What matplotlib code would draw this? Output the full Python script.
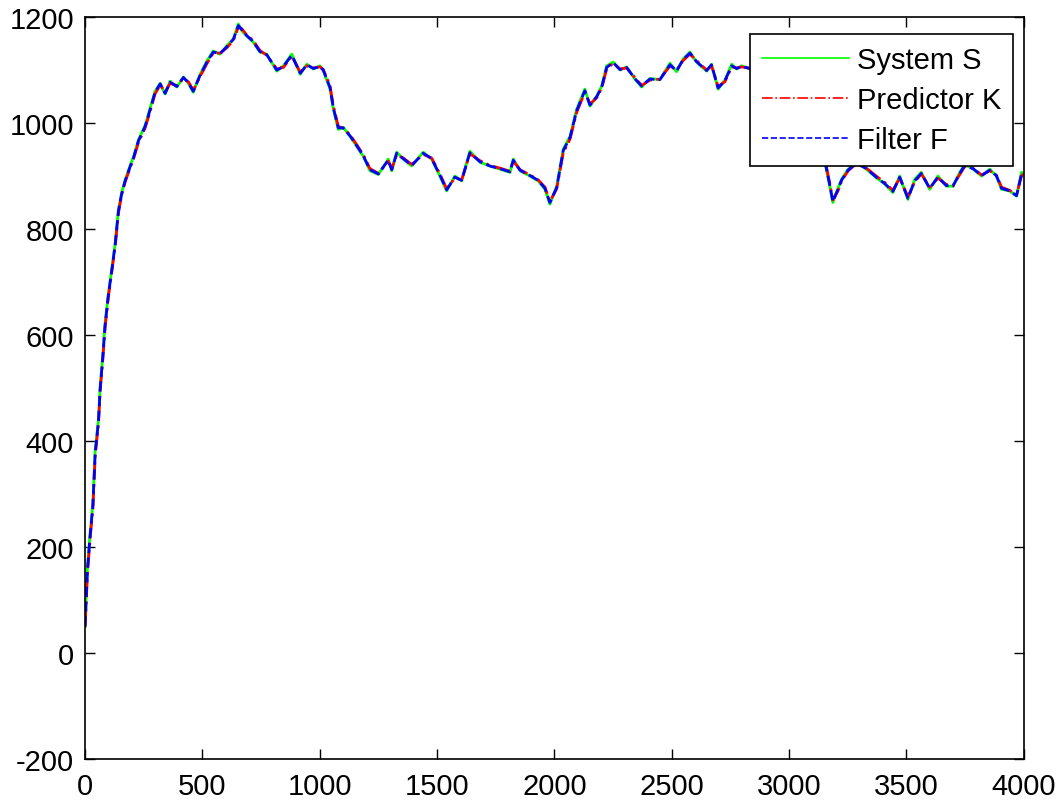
import matplotlib.pyplot as plt

plt.rcParams['font.family'] = ['Liberation Sans', 'DejaVu Sans']
plt.rcParams['axes.unicode_minus'] = False

# sample index
steps = [0, 5, 10, 21, 33, 43, 57, 64, 75, 85,
         99, 114, 128, 142, 156, 170, 192, 206, 227, 256,
         277, 298, 320, 341, 362, 391, 419, 440, 461, 490,
         519, 546, 575, 604, 632, 653, 668, 689, 716, 745,
         774, 817, 845, 881, 917, 945, 973, 1001, 1015, 1044,
         1058, 1079, 1100, 1129, 1158, 1186, 1214, 1250, 1292, 1307,
         1328, 1356, 1392, 1441, 1477, 1512, 1541, 1576, 1605, 1640,
         1683, 1725, 1768, 1811, 1825, 1854, 1896, 1931, 1960, 1981,
         2010, 2038, 2067, 2095, 2130, 2152, 2181, 2202, 2223, 2251,
         2280, 2308, 2343, 2372, 2407, 2450, 2493, 2521, 2549, 2578,
         2606, 2649, 2670, 2698, 2727, 2756, 2777, 2798, 2850, 2900,
         2950, 3000, 3050, 3100, 3130, 3153, 3174, 3187, 3209, 3224,
         3252, 3287, 3330, 3372, 3408, 3443, 3472, 3507, 3536, 3564,
         3600, 3635, 3671, 3699, 3728, 3749, 3785, 3821, 3856, 3884,
         3906, 3941, 3970, 3991, 4000]

system_s = [50, 110, 162, 225, 281, 384, 440, 503, 559, 622,
            678, 726, 773, 837, 869, 892, 920, 936, 968, 996,
            1028, 1060, 1075, 1055, 1079, 1068, 1087, 1075, 1058, 1092,
            1117, 1136, 1130, 1146, 1159, 1187, 1174, 1164, 1153, 1134,
            1130, 1098, 1108, 1130, 1092, 1111, 1102, 1108, 1099, 1064,
            1026, 988, 992, 975, 956, 937, 910, 903, 932, 910,
            945, 932, 919, 945, 932, 900, 872, 900, 891, 947,
            926, 919, 913, 907, 932, 910, 900, 891, 875, 847,
            881, 951, 975, 1026, 1064, 1032, 1051, 1070, 1108, 1115,
            1100, 1106, 1083, 1068, 1084, 1082, 1113, 1097, 1121, 1134,
            1115, 1098, 1111, 1064, 1081, 1111, 1102, 1108, 1100, 1120,
            1090, 1110, 1080, 1040, 980, 926, 881, 850, 877, 894,
            913, 926, 913, 897, 885, 869, 900, 856, 894, 907,
            875, 900, 881, 881, 907, 922, 913, 900, 913, 900,
            875, 872, 862, 907, 905]

predictor_k = [50, 102, 150, 214, 272, 372, 434, 494, 552, 614,
               671, 720, 767, 830, 865, 888, 916, 932, 963, 991,
               1022, 1055, 1072, 1058, 1075, 1071, 1084, 1078, 1062, 1088,
               1112, 1132, 1132, 1142, 1156, 1181, 1178, 1166, 1156, 1137,
               1128, 1102, 1105, 1126, 1096, 1108, 1104, 1106, 1101, 1070,
               1032, 994, 990, 978, 959, 940, 914, 905, 928, 914,
               940, 934, 922, 941, 934, 904, 876, 896, 893, 942,
               929, 920, 915, 909, 928, 912, 902, 893, 879, 852,
               876, 944, 970, 1020, 1058, 1036, 1048, 1066, 1102, 1113,
               1102, 1104, 1086, 1071, 1081, 1083, 1108, 1100, 1118, 1130,
               1118, 1100, 1108, 1069, 1078, 1106, 1104, 1106, 1102, 1116,
               1093, 1107, 1083, 1045, 986, 932, 886, 855, 872, 890,
               910, 923, 915, 900, 888, 873, 896, 861, 889, 904,
               879, 896, 884, 882, 903, 918, 915, 902, 910, 902,
               879, 873, 865, 900, 904]

filter_f = [50, 106, 156, 220, 278, 378, 437, 498, 556, 618,
            675, 723, 770, 834, 867, 890, 918, 934, 966, 994,
            1025, 1058, 1074, 1056, 1077, 1069, 1086, 1076, 1060, 1090,
            1115, 1134, 1131, 1144, 1158, 1184, 1176, 1165, 1154, 1135,
            1129, 1100, 1107, 1128, 1094, 1110, 1103, 1107, 1100, 1067,
            1029, 991, 991, 976, 957, 938, 912, 904, 930, 912,
            943, 933, 920, 943, 933, 902, 874, 898, 892, 944,
            927, 919, 914, 908, 930, 911, 901, 892, 877, 850,
            878, 948, 973, 1023, 1061, 1034, 1050, 1068, 1105, 1114,
            1101, 1105, 1084, 1070, 1083, 1082, 1110, 1098, 1120, 1132,
            1116, 1099, 1110, 1066, 1080, 1108, 1103, 1107, 1101, 1118,
            1091, 1108, 1081, 1042, 983, 929, 883, 852, 875, 892,
            911, 925, 914, 898, 886, 871, 898, 858, 891, 905,
            877, 898, 882, 881, 905, 920, 914, 901, 911, 901,
            877, 872, 863, 903, 905]

fig = plt.figure(figsize=(10.64, 8.03), dpi=100)
ax = fig.add_axes([0.080, 0.0535, 0.882, 0.924])

ax.plot(steps, system_s, '-', color=(0, 1, 0), lw=2.0, label='System S')
ax.plot(steps, predictor_k, '-.', color=(1, 0, 0), lw=2.0, label='Predictor K')
ax.plot(steps, filter_f, '--', color=(0, 0, 1), lw=2.0, label='Filter F')

ax.set_xlim(0, 4000)
ax.set_ylim(-200, 1200)
ax.set_xticks(range(0, 4001, 500))
ax.set_yticks(range(-200, 1201, 200))
ax.tick_params(direction='in', length=7, width=1, top=True, right=True,
               labelsize=21)
ax.tick_params(axis='x', pad=9)
ax.tick_params(axis='y', pad=8)
for s in ax.spines.values():
    s.set_linewidth(1.2)

leg = ax.legend(loc='upper right', bbox_to_anchor=(0.9883, 0.977),
                fontsize=21, fancybox=False, framealpha=1,
                edgecolor='black', handlelength=3.0, handletextpad=0.25,
                labelspacing=0.42, borderpad=0.4, borderaxespad=0)
leg.get_frame().set_linewidth(1.2)
for ln in leg.get_lines():
    ln.set_linewidth(1.2)

fig.savefig('out.png', dpi=100)
